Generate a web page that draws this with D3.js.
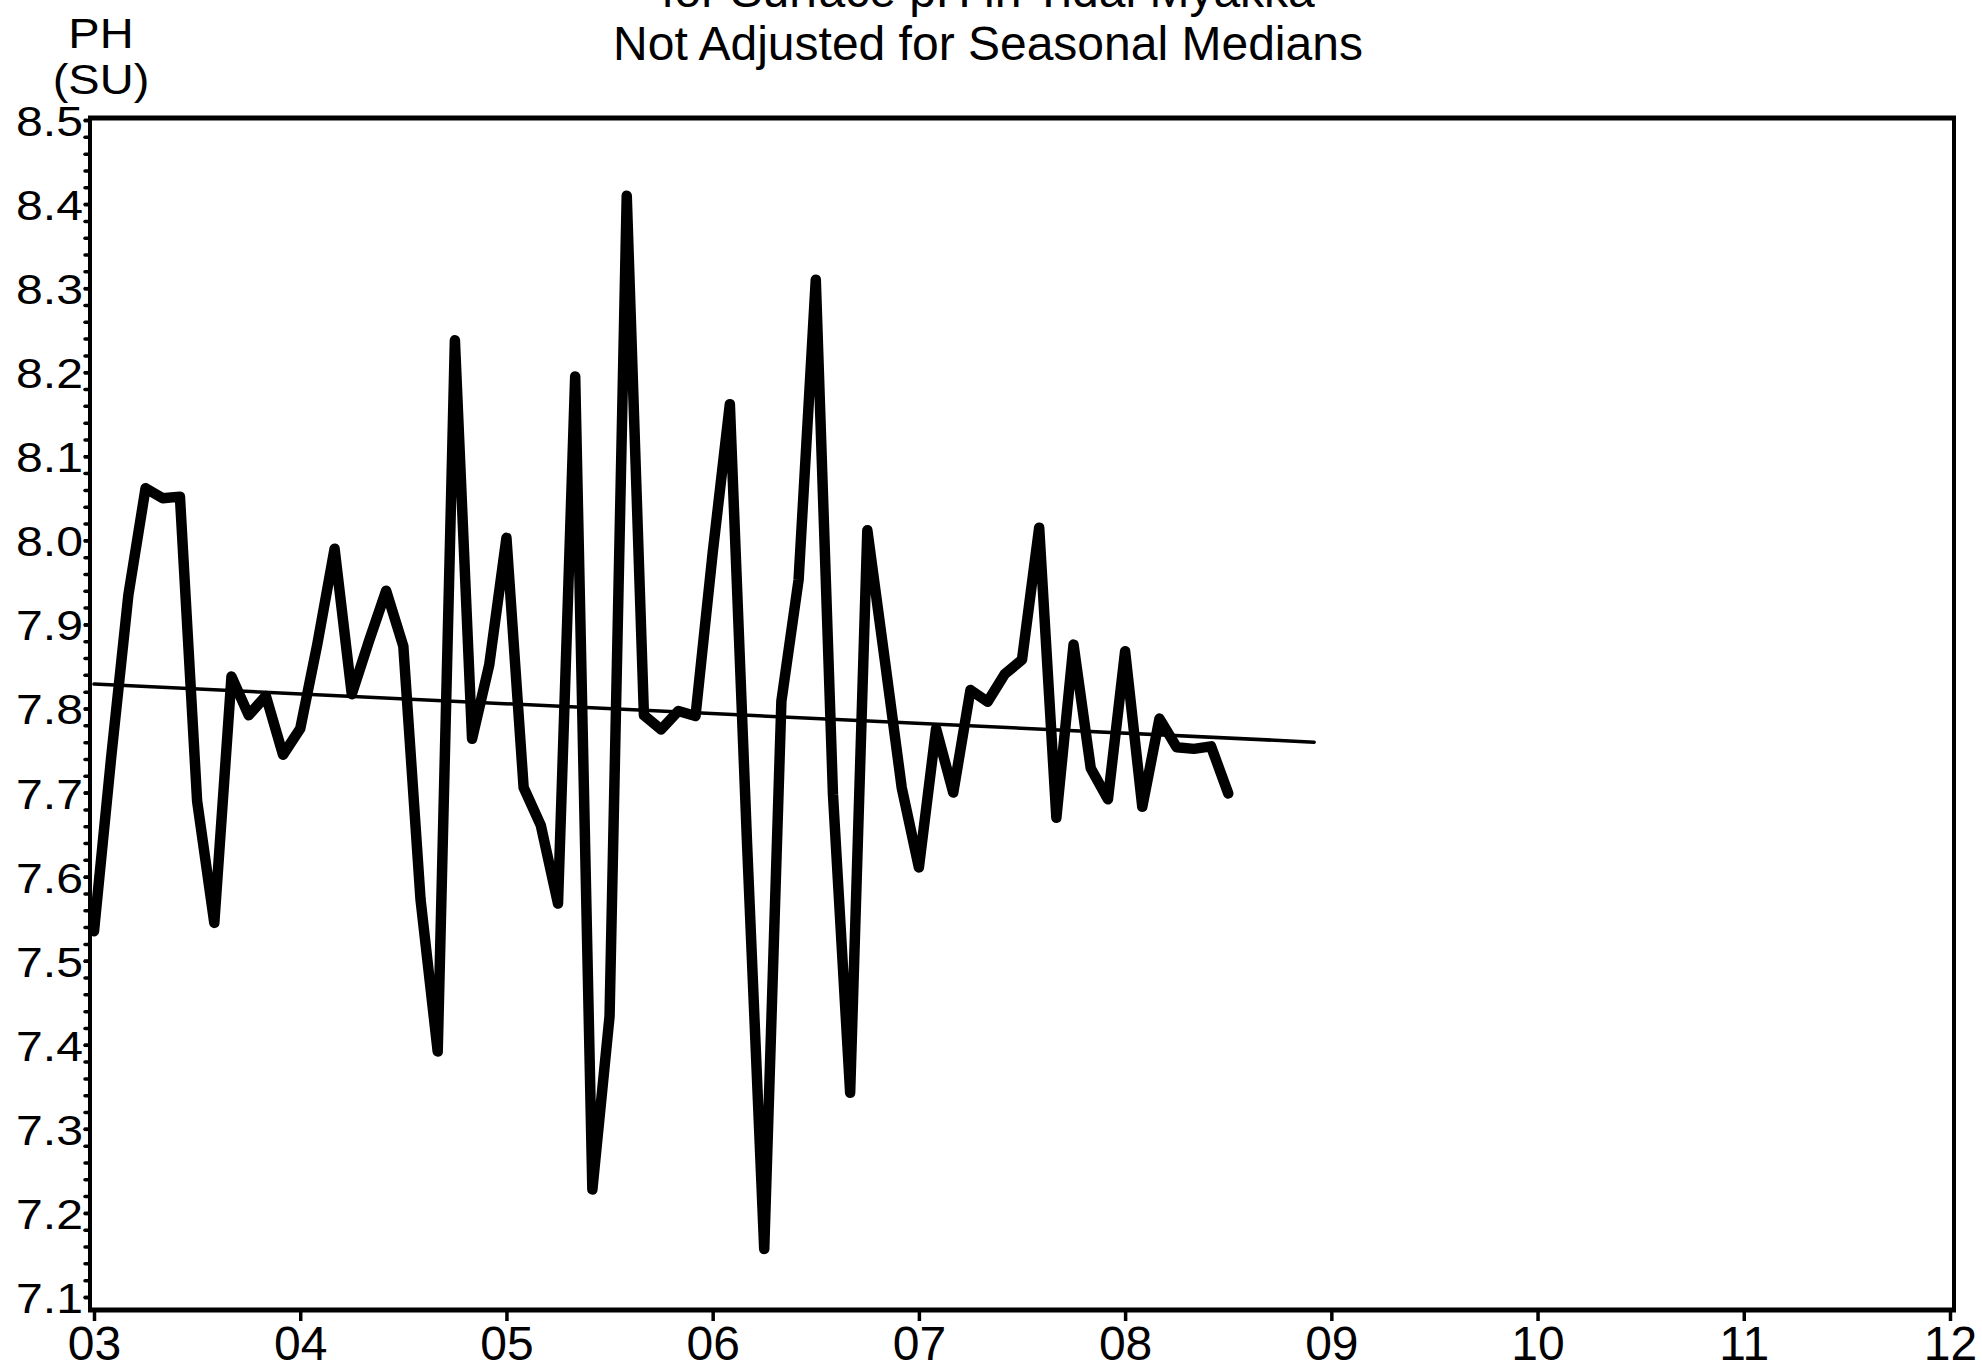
<!DOCTYPE html>
<html>
<head>
<meta charset="utf-8">
<script src="https://cdn.jsdelivr.net/npm/d3@7"></script>
<style>
  body { margin: 0; background: #fff; }
  text { font-family: "Liberation Sans", Arial, sans-serif; fill: #000; }
</style>
</head>
<body>
<div id="chart"></div>
<script>
// monthly surface pH, Jan 2003 .. Jul 2008 (month index from Jan 2003)
var monthIndex = d3.range(0, 67);
var phValues = [
  7.535, 7.742, 7.935, 8.062, 8.050, 8.052, 7.690, 7.545, 7.838, 7.792, 7.815, 7.745,
  7.776, 7.877, 7.990, 7.817, 7.880, 7.940, 7.874, 7.573, 7.392, 8.238, 7.764, 7.852,
  8.003, 7.706, 7.661, 7.568, 8.195, 7.228, 7.434, 8.410, 7.792, 7.775, 7.797, 7.791,
  7.985, 8.162, 7.640, 7.157, 7.809, 7.953, 8.310, 7.698, 7.343, 8.012, 7.860, 7.706,
  7.611, 7.776, 7.700, 7.822, 7.808, 7.841, 7.858, 8.015, 7.670, 7.876, 7.729, 7.692,
  7.868, 7.683, 7.788, 7.754, 7.752, 7.755, 7.699
];
// trend line end points (month index, pH)
var trendMonths = [0, 71];
var trendValues = [7.829, 7.760];

var yearTicks = d3.range(2003, 2013);
var yearLabels = ["03", "04", "05", "06", "07", "08", "09", "10", "11", "12"];
var phTicks = [7.1, 7.2, 7.3, 7.4, 7.5, 7.6, 7.7, 7.8, 7.9, 8.0, 8.1, 8.2, 8.3, 8.4, 8.5];
var titleLines = ["for Surface pH in Tidal Myakka", "Not Adjusted for Seasonal Medians"];

var W = 1982, H = 1366;
var box = {left: 90, right: 1954, top: 118, bottom: 1310};
var stretch = 1.12; // axis text is drawn a bit wide in the original

var svg = d3.select("#chart").append("svg")
    .attr("width", W)
    .attr("height", H);

var xScale = d3.scaleLinear()
    .domain([2003, 2012])
    .range([94, 1950]);

var yScale = d3.scaleLinear()
    .domain([7.1, 8.5])
    .range([1297, 120]);

// title
svg.selectAll(".title").data(titleLines).enter().append("text")
    .attr("class", "title")
    .attr("x", 988)
    .attr("y", function(d, i) { return 7 + i * 53; })
    .attr("text-anchor", "middle")
    .style("font-size", "48px")
    .text(function(d) { return d; });

// y axis label
svg.selectAll(".ylab").data(["PH", "(SU)"]).enter().append("text")
    .attr("class", "ylab")
    .attr("text-anchor", "middle")
    .attr("transform", function(d, i) { return "translate(101," + (48 + i * 46) + ") scale(" + stretch + ",1)"; })
    .style("font-size", "42px")
    .text(function(d) { return d; });

// minor ticks on y, every 0.02
var minorTicks = d3.range(0, 71).map(function(i) { return +(7.1 + i * 0.02).toFixed(2); });
svg.append("g")
    .attr("class", "y minor")
    .attr("transform", "translate(" + box.left + ",0)")
    .call(d3.axisLeft(yScale).tickValues(minorTicks).tickSize(5).tickFormat(""))
    .call(function(g) {
      g.select(".domain").remove();
      g.selectAll("line").attr("stroke", "#000").attr("stroke-width", 3.5).attr("stroke-linecap", "round");
    });

// major ticks on y with labels
svg.append("g")
    .attr("class", "y axis")
    .attr("transform", "translate(" + box.left + ",0)")
    .call(d3.axisLeft(yScale).tickValues(phTicks).tickSize(6).tickFormat(d3.format(".1f")))
    .call(function(g) {
      g.select(".domain").remove();
      g.selectAll("line").attr("stroke", "#000").attr("stroke-width", 3.5);
      g.selectAll("text")
          .attr("x", -7 / stretch)
          .attr("dy", "0.36em")
          .attr("transform", "scale(" + stretch + ",1)")
          .style("font-size", "43px")
          .style("font-family", "'Liberation Sans', Arial, sans-serif")
          .attr("fill", "#000");
    });

// x axis
svg.append("g")
    .attr("class", "x axis")
    .attr("transform", "translate(0," + box.bottom + ")")
    .call(d3.axisBottom(xScale).tickValues(yearTicks).tickSize(11)
      .tickFormat(function(d, i) { return yearLabels[i]; }))
    .call(function(g) {
      g.select(".domain").remove();
      g.selectAll("line").attr("stroke", "#000").attr("stroke-width", 3.5);
      g.selectAll("text")
          .attr("y", 50)
          .attr("dy", 0)
          .style("font-size", "48px")
          .style("font-family", "'Liberation Sans', Arial, sans-serif")
          .attr("fill", "#000");
    });

// frame
svg.append("line").attr("x1", box.left - 2).attr("x2", box.right + 2).attr("y1", box.top).attr("y2", box.top)
    .attr("stroke", "#000").attr("stroke-width", 5);
svg.append("line").attr("x1", box.left - 2).attr("x2", box.right + 2).attr("y1", box.bottom).attr("y2", box.bottom)
    .attr("stroke", "#000").attr("stroke-width", 5);
svg.append("line").attr("x1", box.left).attr("x2", box.left).attr("y1", box.top).attr("y2", box.bottom)
    .attr("stroke", "#000").attr("stroke-width", 4);
svg.append("line").attr("x1", box.right).attr("x2", box.right).attr("y1", box.top).attr("y2", box.bottom)
    .attr("stroke", "#000").attr("stroke-width", 4);

// data line
var data = monthIndex.map(function(m, i) { return {x: 2003 + m / 12, y: phValues[i]}; });
var line = d3.line()
    .x(function(d) { return xScale(d.x); })
    .y(function(d) { return yScale(d.y); });

svg.append("path")
    .datum(data)
    .attr("fill", "none")
    .attr("stroke", "#000")
    .attr("stroke-width", 10.5)
    .attr("stroke-linejoin", "round")
    .attr("stroke-linecap", "round")
    .attr("d", line);

// trend line
var trend = trendMonths.map(function(m, i) { return {x: 2003 + m / 12, y: trendValues[i]}; });
svg.append("path")
    .datum(trend)
    .attr("fill", "none")
    .attr("stroke", "#000")
    .attr("stroke-width", 3.5)
    .attr("stroke-linecap", "round")
    .attr("d", line);
</script>
</body>
</html>
